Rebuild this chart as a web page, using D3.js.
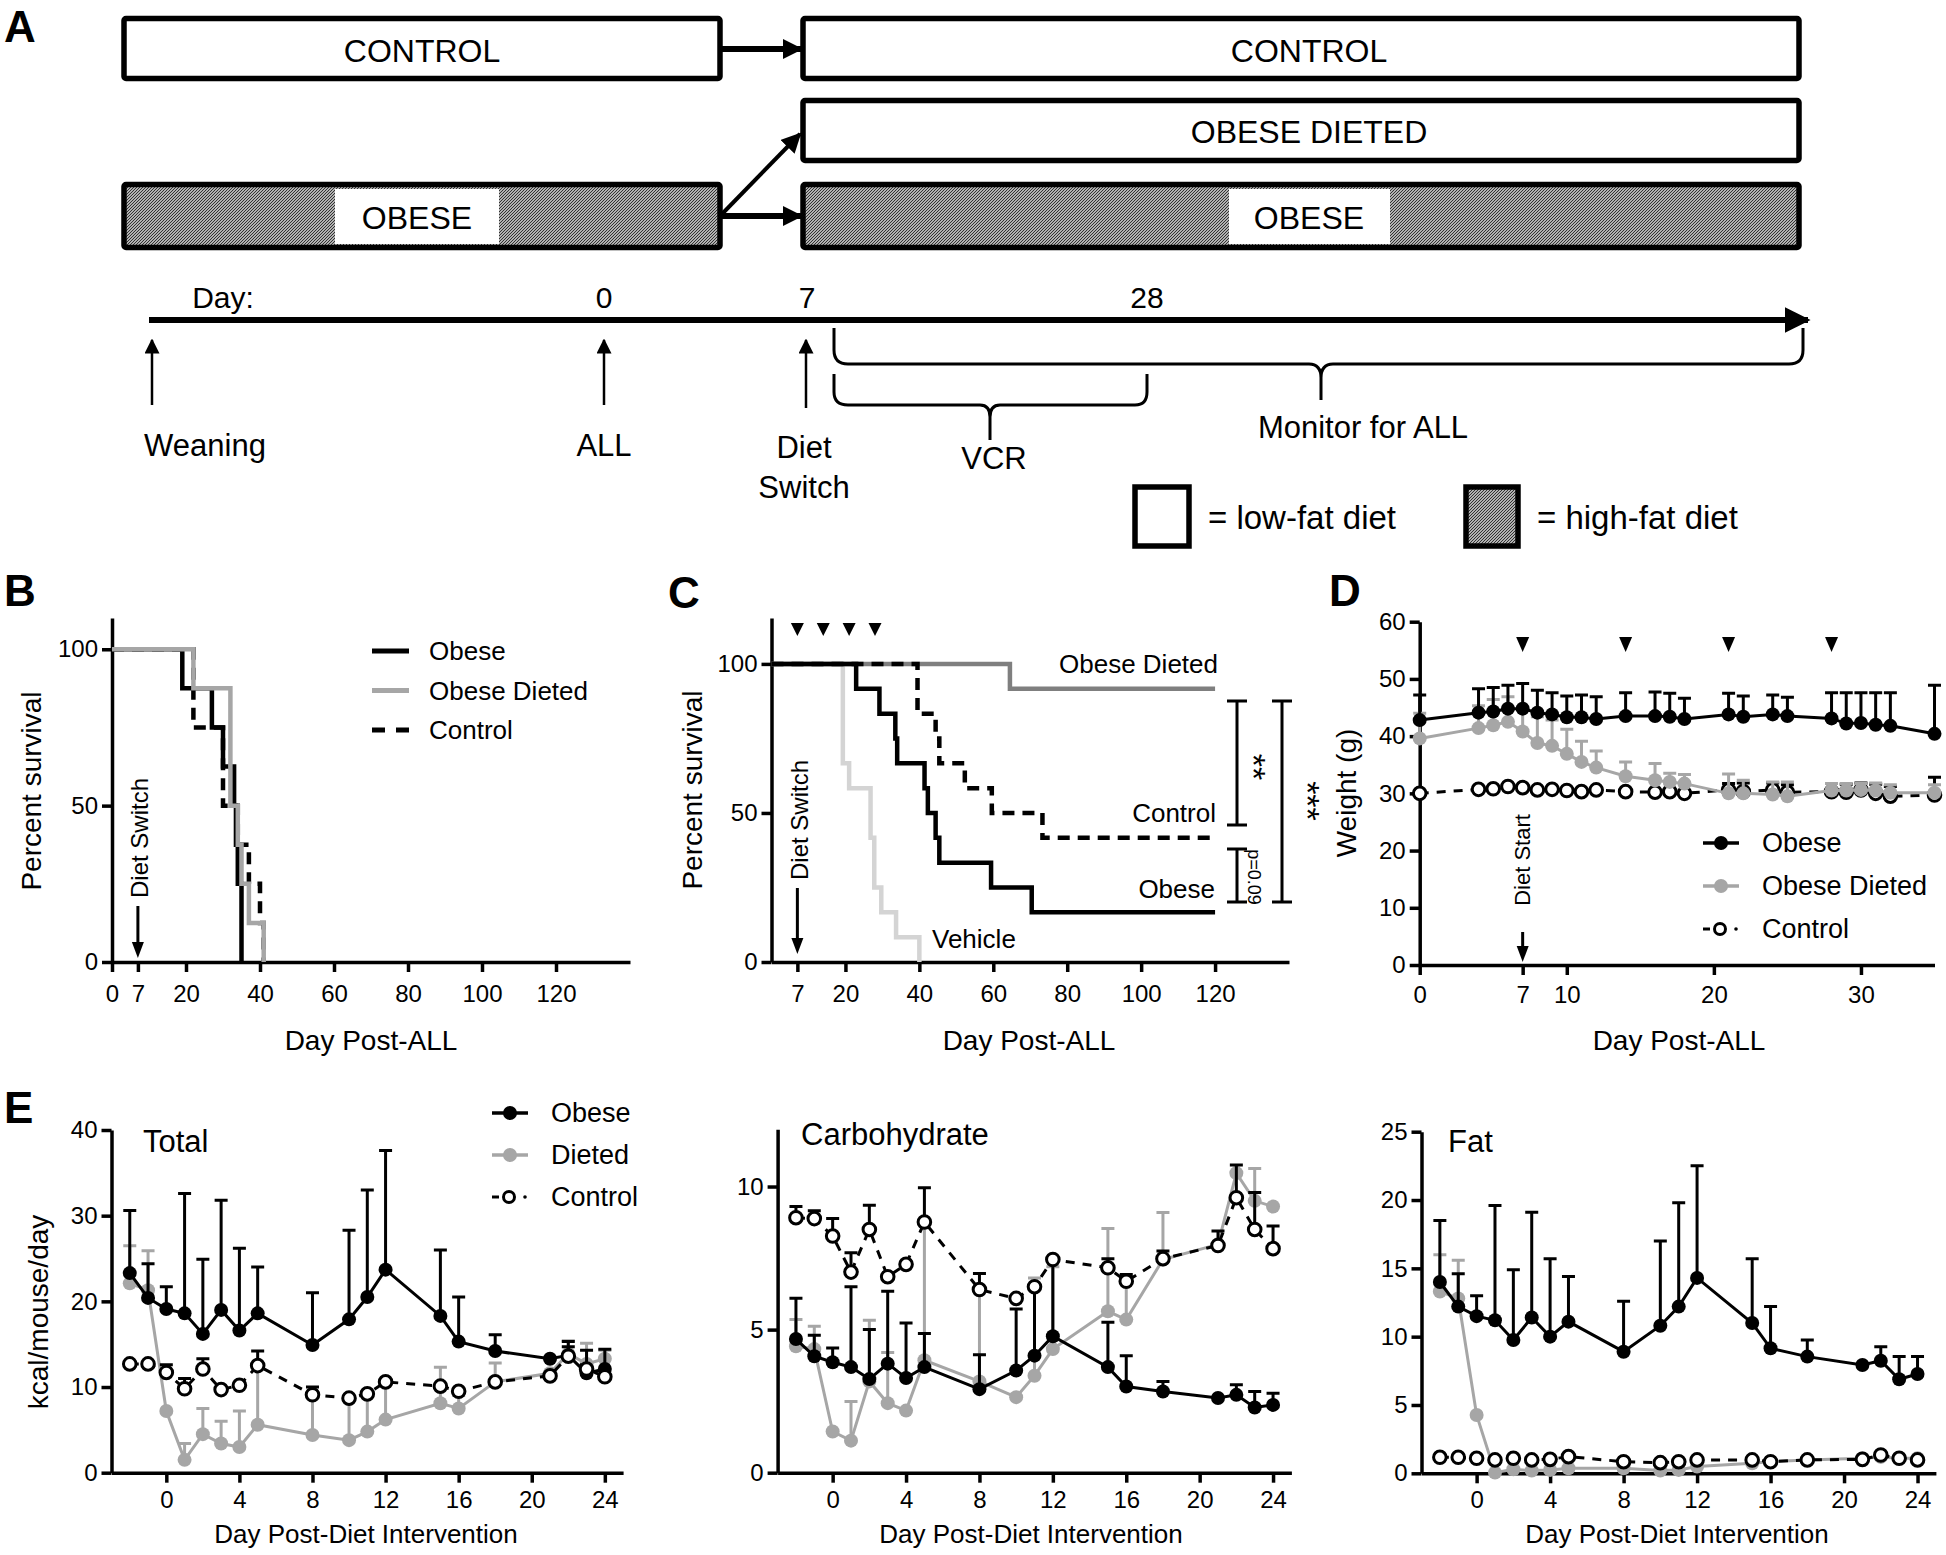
<!DOCTYPE html>
<html><head><meta charset="utf-8">
<script src="https://cdn.jsdelivr.net/npm/d3@7"></script>
<style>body{margin:0;background:#fff}svg{display:block}</style>
</head><body>
<script>
// ---------------- DATA ----------------
// Panel B: Kaplan-Meier steps [day, percent]
const bObese   = [[0,100],[19,87.5],[27,75],[30,62.5],[33,50],[33.5,37.5],[34,25],[35,0]];
const bDieted  = [[0,100],[22,87.5],[32,50],[34,37.5],[35,25],[37,12.5],[41,0]];
const bControl = [[0,100],[22,75],[30,50],[34,37.5],[37,25],[40,12.5],[41,0]];
const bXTicks = [0,7,20,40,60,80,100,120];
const survYTicks = [0,50,100];
// Panel C
const cVehicle = [[0,100],[19.3,66.7],[21,58.3],[26.8,41.7],[27.8,25],[29.7,16.7],[33.7,8.3],[40,0]];
const cDieted  = [[0,100],[64.5,91.7],[120,91.7]];
const cControl = [[0,100],[39.5,83.3],[44.4,75],[45.4,66.7],[52.3,58.3],[59.6,50],[73.3,41.7],[120,41.7]];
const cObese   = [[0,100],[22.9,91.7],[29.2,83.3],[33.5,75],[34,66.7],[41.4,58.3],[42.3,50],[44.4,41.7],[45.4,33.3],[59.4,25],[70.4,16.7],[120,16.7]];
const cXTicks = [7,20,40,60,80,100,120];
const cTreatDays = [7,14,21,28];
// Panel D: weight
const dDays = [0,4,5,6,7,8,9,10,11,12,14,16,17,18,21,22,24,25,28,29,30,31,32,35];
const dObese    = [42.8,44.1,44.3,44.8,44.8,44.1,43.8,43.3,43.3,43.0,43.5,43.5,43.4,43.0,43.8,43.4,43.8,43.5,43.1,42.2,42.3,42.0,41.8,40.4];
const dObeseErr = [47.2,48.3,48.5,48.9,49.2,48.0,47.6,47.0,47.2,46.9,47.6,47.7,47.5,46.6,47.5,47.0,47.2,46.8,47.6,47.6,47.6,47.6,47.6,48.9];
const dDieted    = [39.6,41.4,41.9,42.5,40.8,38.8,38.3,36.9,35.5,34.5,33.0,32.3,32.0,31.7,30.0,30.0,29.8,29.5,30.5,30.5,30.6,30.5,30.1,30.1];
const dDietedErr = [44.0,45.3,46.4,46.9,45.1,43.4,42.8,41.2,39.1,37.4,35.5,35.2,33.5,33.3,33.4,32.3,32.0,32.0,31.7,31.7,31.7,31.8,31.5,31.5];
const dControl    = [30.0,30.7,30.8,31.2,31.0,30.6,30.7,30.5,30.3,30.6,30.3,30.2,30.3,30.0,30.6,30.3,30.6,30.2,30.3,30.2,30.6,30.0,29.5,29.7];
const dControlErr = [null,null,null,null,null,null,null,null,null,null,null,null,null,null,31.7,31.8,31.8,31.5,null,31.6,31.8,31.6,31.2,32.8];
const dXTicks = [0,7,10,20,30];
const dYTicks = [0,10,20,30,40,50,60];
const dTreatDays = [7,14,21,28];
// Panel E: food intake
const eDays = [-2,-1,0,1,2,3,4,5,8,10,11,12,15,16,18,21,22,23,24];
const totalObese    = [23.3,20.4,19.1,18.6,16.2,19.0,16.6,18.6,14.9,17.9,20.5,23.7,18.3,15.3,14.2,13.3,13.7,11.6,12.1];
const totalObeseErr = [30.6,24.4,21.7,32.6,24.9,31.8,26.2,24.0,21.0,28.3,33.0,37.6,26.0,20.5,16.1,null,15.3,14.3,14.4];
const totalDieted    = [22.1,21.3,7.2,1.5,4.5,3.4,3.0,5.6,4.4,3.8,4.8,6.2,8.1,7.5,10.6,11.6,13.9,12.7,13.3];
const totalDietedErr = [26.5,25.9,null,3.4,7.5,6.0,7.2,12.5,9.4,8.5,8.9,10.6,12.3,9.0,12.8,null,15.4,15.1,14.3];
const totalControl    = [12.7,12.7,11.7,9.8,12.1,9.7,10.2,12.5,9.1,8.7,9.2,10.6,10.1,9.5,10.6,11.3,13.6,12.1,11.2];
const totalControlErr = [null,null,12.6,11.0,13.3,null,null,14.2,10.0,null,null,null,null,null,null,null,14.7,null,null];
const carbObese    = [4.67,4.07,3.86,3.69,3.27,3.81,3.31,3.69,2.92,3.57,4.09,4.77,3.69,3.01,2.84,2.61,2.72,2.28,2.37];
const carbObeseErr = [6.1,4.8,4.36,6.5,5.0,6.34,5.23,4.86,4.12,5.72,6.52,7.45,5.26,4.09,3.19,null,3.07,2.84,2.78];
const carbDieted    = [4.42,4.32,1.44,1.12,3.19,2.43,2.17,3.93,3.19,2.64,3.39,4.32,5.64,5.35,7.45,7.98,10.47,9.5,9.3];
const carbDietedErr = [5.35,5.12,null,2.49,5.33,4.2,null,8.7,6.4,null,6.8,7.2,8.53,6.87,9.09,null,null,10.63,null];
const carbControl    = [8.91,8.88,8.27,7.01,8.5,6.85,7.28,8.76,6.4,6.09,6.5,7.45,7.16,6.69,7.48,7.94,9.61,8.5,7.83];
const carbControlErr = [9.3,9.15,8.88,7.69,9.35,null,null,9.96,6.96,null,null,null,7.48,6.93,7.75,8.45,10.75,9.79,8.62];
const fatObese    = [14.0,12.2,11.5,11.2,9.76,11.4,10.0,11.1,8.9,10.8,12.2,14.3,11.0,9.15,8.54,7.93,8.24,6.88,7.27];
const fatObeseErr = [18.5,14.6,13.0,19.6,14.9,19.1,15.7,14.4,12.6,17.0,19.8,22.5,15.7,12.2,9.76,null,9.27,8.54,8.54];
const fatDieted    = [13.3,12.8,4.27,0.05,0.3,0.2,0.25,0.37,0.37,0.2,0.25,0.5,0.73,0.85,0.98,1.1,1.2,1.1,1.1];
const fatDietedErr = [16.0,15.6,null,null,null,null,null,null,null,null,null,null,null,null,null,null,null,null,null];
const fatControl    = [1.17,1.17,1.1,0.98,1.1,0.98,1.02,1.22,0.85,0.78,0.85,0.98,0.98,0.85,0.98,1.02,1.34,1.1,0.98];
const eXTicks = [0,4,8,12,16,20,24];

// ---------------- SETUP ----------------
const FONT = "'Liberation Sans', Arial, Helvetica, sans-serif";
const W = 1946, H = 1555;
const svg = d3.select("body").append("svg").attr("width", W).attr("height", H)
  .attr("font-family", FONT);
svg.append("rect").attr("width", W).attr("height", H).attr("fill", "#fff");
const defs = svg.append("defs");
const pat = defs.append("pattern").attr("id","hatch").attr("patternUnits","userSpaceOnUse")
  .attr("width",3).attr("height",3);
pat.append("rect").attr("width",3).attr("height",3).attr("fill","#ececec");
pat.append("path").attr("d","M-1,1 l2,-2 M0,3 l3,-3 M2,4 l2,-2").attr("stroke","#2a2a2a").attr("stroke-width",1.15);
function makeMarker(id, size) {
  const m = defs.append("marker").attr("id",id).attr("viewBox","0 0 10 10").attr("refX",9).attr("refY",5)
    .attr("markerUnits","userSpaceOnUse").attr("markerWidth",size).attr("markerHeight",size).attr("orient","auto");
  m.append("path").attr("d","M0,0 L10,5 L0,10 Z").attr("fill","#000");
}
makeMarker("ah", 15);
makeMarker("ahBig", 20);
makeMarker("ahTime", 26);

function text(g, x, y, s, size, opts = {}) {
  const t = g.append("text").attr("x", x).attr("y", y).text(s).attr("font-size", size).attr("fill", "#000")
    .attr("text-anchor", opts.anchor || "start");
  if (opts.bold) t.attr("font-weight", "bold");
  if (opts.rotate !== undefined) t.attr("transform", `rotate(${opts.rotate},${x},${y})`);
  return t;
}
function styleAxis(g, fs) {
  g.attr("font-size", fs).attr("font-family", FONT);
  g.selectAll("path.domain, .tick line").attr("stroke", "#000").attr("stroke-width", 3.5);
  g.selectAll("text").attr("fill", "#000");
}
function arrow(g, x1, y1, x2, y2, w, mid) {
  g.append("line").attr("x1",x1).attr("y1",y1).attr("x2",x2).attr("y2",y2)
    .attr("stroke","#000").attr("stroke-width",w).attr("marker-end", `url(#${mid})`);
}

// ---------------- PANEL A ----------------
const A = svg.append("g");
text(A, 4, 42, "A", 44, {bold:true});
function box(x, y, w, h, hatched) {
  A.append("rect").attr("x",x).attr("y",y).attr("width",w).attr("height",h).attr("rx",2)
    .attr("fill", hatched ? "url(#hatch)" : "#fff").attr("stroke","#000").attr("stroke-width",5.5);
}
box(124, 18.5, 596, 60, false);
box(803, 18.5, 996, 60, false);
box(803, 100.5, 996, 60, false);
box(124, 184.5, 596, 63, true);
box(803, 184.5, 996, 63, true);
A.append("rect").attr("x",335).attr("y",189).attr("width",164).attr("height",55).attr("fill","#fff");
A.append("rect").attr("x",1229).attr("y",189).attr("width",161).attr("height",55).attr("fill","#fff");
text(A, 422, 62, "CONTROL", 32, {anchor:"middle"});
text(A, 1309, 62, "CONTROL", 32, {anchor:"middle"});
text(A, 1309, 143, "OBESE DIETED", 32, {anchor:"middle"});
text(A, 417, 229, "OBESE", 32, {anchor:"middle"});
text(A, 1309, 229, "OBESE", 32, {anchor:"middle"});
arrow(A, 722, 49, 801, 49, 6, "ahBig");
arrow(A, 722, 216, 801, 216, 6, "ahBig");
arrow(A, 722, 214, 800, 134, 4, "ahBig");
// timeline
arrow(A, 149, 320, 1808, 320, 6, "ahTime");
text(A, 223, 308, "Day:", 30, {anchor:"middle"});
text(A, 604, 308, "0", 30, {anchor:"middle"});
text(A, 807, 308, "7", 30, {anchor:"middle"});
text(A, 1147, 308, "28", 30, {anchor:"middle"});
arrow(A, 152, 405, 152, 340, 2.5, "ah");
arrow(A, 604, 405, 604, 340, 2.5, "ah");
arrow(A, 806, 408, 806, 340, 2.5, "ah");
text(A, 205, 456, "Weaning", 31, {anchor:"middle"});
text(A, 604, 456, "ALL", 31, {anchor:"middle"});
text(A, 804, 458, "Diet", 31, {anchor:"middle"});
text(A, 804, 498, "Switch", 31, {anchor:"middle"});
text(A, 994, 469, "VCR", 31, {anchor:"middle"});
text(A, 1363, 438, "Monitor for ALL", 31, {anchor:"middle"});
A.append("path").attr("fill","none").attr("stroke","#000").attr("stroke-width",3)
  .attr("d","M834,328 V350 Q834,364 848,364 H1309 Q1321,364 1321,378 V400 M1321,378 Q1321,364 1333,364 H1789 Q1803,364 1803,350 V328");
A.append("path").attr("fill","none").attr("stroke","#000").attr("stroke-width",3)
  .attr("d","M834,374 V392 Q834,405 848,405 H980 Q990,405 990,417 V440 M990,417 Q990,405 1000,405 H1135 Q1147,405 1147,392 V374");
// legend
A.append("rect").attr("x",1135).attr("y",487).attr("width",54).attr("height",59).attr("fill","#fff").attr("stroke","#000").attr("stroke-width",5.5);
A.append("rect").attr("x",1466).attr("y",487).attr("width",52).attr("height",59).attr("fill","url(#hatch)").attr("stroke","#000").attr("stroke-width",5.5);
text(A, 1208, 529, "= low-fat diet", 33);
text(A, 1537, 529, "= high-fat diet", 33);

// ---------------- SURVIVAL HELPERS ----------------
function kmLine(g, x, y, data, color, width, dash) {
  const line = d3.line().x(d => x(d[0])).y(d => y(d[1])).curve(d3.curveStepAfter);
  const p = g.append("path").datum(data).attr("d", line).attr("fill","none")
    .attr("stroke", color).attr("stroke-width", width);
  if (dash) p.attr("stroke-dasharray", dash);
}
function downArrow(g, x, y1, y2) {
  g.append("line").attr("x1",x).attr("x2",x).attr("y1",y1).attr("y2",y2-12).attr("stroke","#000").attr("stroke-width",3);
  g.append("path").attr("d",`M${x-6},${y2-16} L${x+6},${y2-16} L${x},${y2} Z`).attr("fill","#000");
}
function triangle(g, x, y, w, h) {
  g.append("path").attr("d",`M${x-w/2},${y} L${x+w/2},${y} L${x},${y+h} Z`).attr("fill","#000");
}

// ---------------- PANEL B ----------------
const B = svg.append("g");
text(B, 4, 606, "B", 44, {bold:true});
const bx = d3.scaleLinear().domain([0,140]).range([112,630]);
const by = d3.scaleLinear().domain([0,110]).range([962,618]);
styleAxis(B.append("g").attr("transform","translate(0,962)")
  .call(d3.axisBottom(bx).tickValues(bXTicks).tickSize(10).tickSizeOuter(0).tickPadding(13)), 24);
styleAxis(B.append("g").attr("transform","translate(112,0)")
  .call(d3.axisLeft(by).tickValues(survYTicks).tickSize(10).tickSizeOuter(0).tickPadding(4)), 24);
text(B, 41, 791, "Percent survival", 28, {anchor:"middle", rotate:-90});
text(B, 371, 1050, "Day Post-ALL", 28, {anchor:"middle"});
text(B, 148, 838, "Diet Switch", 24, {anchor:"middle", rotate:-90});
downArrow(B, bx(7), 906, 958);
kmLine(B, bx, by, bControl, "#000", 4.5, "12,8");
kmLine(B, bx, by, bObese, "#000", 4.5);
kmLine(B, bx, by, bDieted, "#a6a6a6", 4.5);
const bLeg = [["Obese","#000",null],["Obese Dieted","#a6a6a6",null],["Control","#000","12,8"]];
bLeg.forEach((d,i) => {
  const yy = 651 + i*39.5;
  const l = B.append("line").attr("x1",372).attr("x2",409).attr("y1",yy).attr("y2",yy)
    .attr("stroke",d[1]).attr("stroke-width",5);
  if (d[2]) l.attr("stroke-dasharray","13,11");
  text(B, 429, yy+9, d[0], 26);
});

// ---------------- PANEL C ----------------
const C = svg.append("g");
text(C, 668, 608, "C", 44, {bold:true});
const cx = d3.scaleLinear().domain([0,140]).range([771.5,1289]);
const cy = d3.scaleLinear().domain([0,115.4]).range([962,618]);
styleAxis(C.append("g").attr("transform","translate(0,962)")
  .call(d3.axisBottom(cx).tickValues(cXTicks).tickSize(10).tickSizeOuter(0).tickPadding(13)), 24);
styleAxis(C.append("g").attr("transform","translate(771.5,0)")
  .call(d3.axisLeft(cy).tickValues(survYTicks).tickSize(10).tickSizeOuter(0).tickPadding(4)), 24);
text(C, 702, 790, "Percent survival", 28, {anchor:"middle", rotate:-90});
text(C, 1029, 1050, "Day Post-ALL", 28, {anchor:"middle"});
text(C, 808, 820, "Diet Switch", 24, {anchor:"middle", rotate:-90});
downArrow(C, cx(7), 888, 954);
cTreatDays.forEach(d => triangle(C, cx(d), 623, 13, 13));
kmLine(C, cx, cy, cVehicle, "#d4d4d4", 4.5);
kmLine(C, cx, cy, cDieted, "#7f7f7f", 4.5);
kmLine(C, cx, cy, cControl, "#000", 4.5, "12,8");
kmLine(C, cx, cy, cObese, "#000", 4.5);
text(C, 1218, 673, "Obese Dieted", 26, {anchor:"end"});
text(C, 1216, 822, "Control", 26, {anchor:"end"});
text(C, 1215, 898, "Obese", 26, {anchor:"end"});
text(C, 932, 948, "Vehicle", 26);
function bracket(g, x, y1, y2) {
  g.append("path").attr("d",`M${x-10},${y1} H${x+10} M${x},${y1} V${y2} M${x-10},${y2} H${x+10}`)
    .attr("stroke","#000").attr("stroke-width",3).attr("fill","none");
}
bracket(C, 1237, 701, 825);
bracket(C, 1237, 849, 902);
bracket(C, 1282, 701, 902);
text(C, 1242, 767, "**", 34, {anchor:"middle", rotate:90});
text(C, 1296, 801, "***", 34, {anchor:"middle", rotate:90});
text(C, 1248, 877, "p=0.09", 18, {anchor:"middle", rotate:90});

// ---------------- DOT/LINE HELPER ----------------
function series(g, x, y, days, vals, errs, o) {
  if (errs) {
    days.forEach((d,i) => {
      if (errs[i] == null) return;
      g.append("path").attr("d",`M${x(d)},${y(vals[i])} V${y(errs[i])} M${x(d)-6.5},${y(errs[i])} H${x(d)+6.5}`)
        .attr("stroke", o.color).attr("stroke-width", 3).attr("fill","none");
    });
  }
  const line = d3.line().x((d,i) => x(days[i])).y(d => y(d));
  const p = g.append("path").datum(vals).attr("d", line).attr("fill","none")
    .attr("stroke", o.color).attr("stroke-width", 3);
  if (o.dash) p.attr("stroke-dasharray", o.dash);
  g.selectAll(null).data(vals).enter().append("circle")
    .attr("cx",(d,i) => x(days[i])).attr("cy", d => y(d))
    .attr("r", o.open ? 6.3 : 7)
    .attr("fill", o.open ? "#fff" : o.color)
    .attr("stroke", o.open ? "#000" : "none").attr("stroke-width", 3);
}
function legend(g, x0, y0, dy, items, fs) {
  items.forEach((d,i) => {
    const yy = y0 + i*dy;
    if (d.open) {
      g.append("line").attr("x1",x0).attr("x2",x0+7).attr("y1",yy).attr("y2",yy).attr("stroke","#000").attr("stroke-width",3);
      g.append("circle").attr("cx",x0+17).attr("cy",yy).attr("r",5.5).attr("fill","#fff").attr("stroke","#000").attr("stroke-width",3);
      g.append("circle").attr("cx",x0+33).attr("cy",yy).attr("r",1.8).attr("fill","#000");
    } else {
      g.append("line").attr("x1",x0).attr("x2",x0+36).attr("y1",yy).attr("y2",yy).attr("stroke",d.color).attr("stroke-width",3.5);
      g.append("circle").attr("cx",x0+18).attr("cy",yy).attr("r",7).attr("fill",d.color);
    }
    text(g, x0+59, yy+9, d.label, fs);
  });
}

// ---------------- PANEL D ----------------
const D = svg.append("g");
text(D, 1329, 606, "D", 44, {bold:true});
const dx = d3.scaleLinear().domain([0,35]).range([1419.7,1934.5]);
const dy = d3.scaleLinear().domain([0,60]).range([965,621.7]);
styleAxis(D.append("g").attr("transform","translate(0,965)")
  .call(d3.axisBottom(dx).tickValues(dXTicks).tickSize(10).tickSizeOuter(0).tickPadding(11)), 24);
styleAxis(D.append("g").attr("transform","translate(1419.7,0)")
  .call(d3.axisLeft(dy).tickValues(dYTicks).tickSize(10).tickSizeOuter(0).tickPadding(4)), 24);
text(D, 1356, 793, "Weight (g)", 28, {anchor:"middle", rotate:-90});
text(D, 1679, 1050, "Day Post-ALL", 28, {anchor:"middle"});
text(D, 1530, 860, "Diet Start", 22, {anchor:"middle", rotate:-90});
downArrow(D, dx(7), 932, 962);
dTreatDays.forEach(d => triangle(D, dx(d), 637, 13, 15));
series(D, dx, dy, dDays, dControl, dControlErr, {color:"#000", open:true, dash:"9,8"});
series(D, dx, dy, dDays, dDieted, dDietedErr, {color:"#a6a6a6"});
series(D, dx, dy, dDays, dObese, dObeseErr, {color:"#000"});
legend(D, 1703, 843, 43, [{label:"Obese",color:"#000"},{label:"Obese Dieted",color:"#a6a6a6"},{label:"Control",open:true}], 27);

// ---------------- PANEL E ----------------
const E = svg.append("g");
text(E, 4, 1123, "E", 44, {bold:true});
function ePanel(x0, x1, yTop, yBottom, yMax, yTicks, title, tx, ty, obs, obsE, die, dieE, con, conE, titleX) {
  const x = d3.scaleLinear().domain([-3,25]).range([x0,x1]);
  const y = d3.scaleLinear().domain([0,yMax]).range([yBottom,yTop]);
  styleAxis(E.append("g").attr("transform",`translate(0,${yBottom})`)
    .call(d3.axisBottom(x).tickValues(eXTicks).tickSize(10).tickSizeOuter(0).tickPadding(8)), 24);
  styleAxis(E.append("g").attr("transform",`translate(${x0},0)`)
    .call(d3.axisLeft(y).tickValues(yTicks).tickSize(10).tickSizeOuter(0).tickPadding(4)), 24);
  text(E, tx, ty, title, 31);
  text(E, titleX, 1543, "Day Post-Diet Intervention", 26, {anchor:"middle"});
  series(E, x, y, eDays, die, dieE, {color:"#a6a6a6"});
  series(E, x, y, eDays, obs, obsE, {color:"#000"});
  series(E, x, y, eDays, con, conE, {color:"#000", open:true, dash:"9,8"});
}
ePanel(111.5, 623.1, 1130, 1472.7, 40, [0,10,20,30,40], "Total", 143, 1152,
  totalObese, totalObeseErr, totalDieted, totalDietedErr, totalControl, totalControlErr, 366);
ePanel(777.6, 1291.4, 1129.3, 1472.7, 12, [0,5,10], "Carbohydrate", 801, 1145,
  carbObese, carbObeseErr, carbDieted, carbDietedErr, carbControl, carbControlErr, 1031);
ePanel(1421.5, 1935.9, 1131.7, 1473.3, 25, [0,5,10,15,20,25], "Fat", 1448, 1152,
  fatObese, fatObeseErr, fatDieted, fatDietedErr, fatControl, null, 1677);
text(E, 48, 1312, "kcal/mouse/day", 28, {anchor:"middle", rotate:-90});
legend(E, 492, 1113, 42, [{label:"Obese",color:"#000"},{label:"Dieted",color:"#a6a6a6"},{label:"Control",open:true}], 27);
</script>
</body></html>
